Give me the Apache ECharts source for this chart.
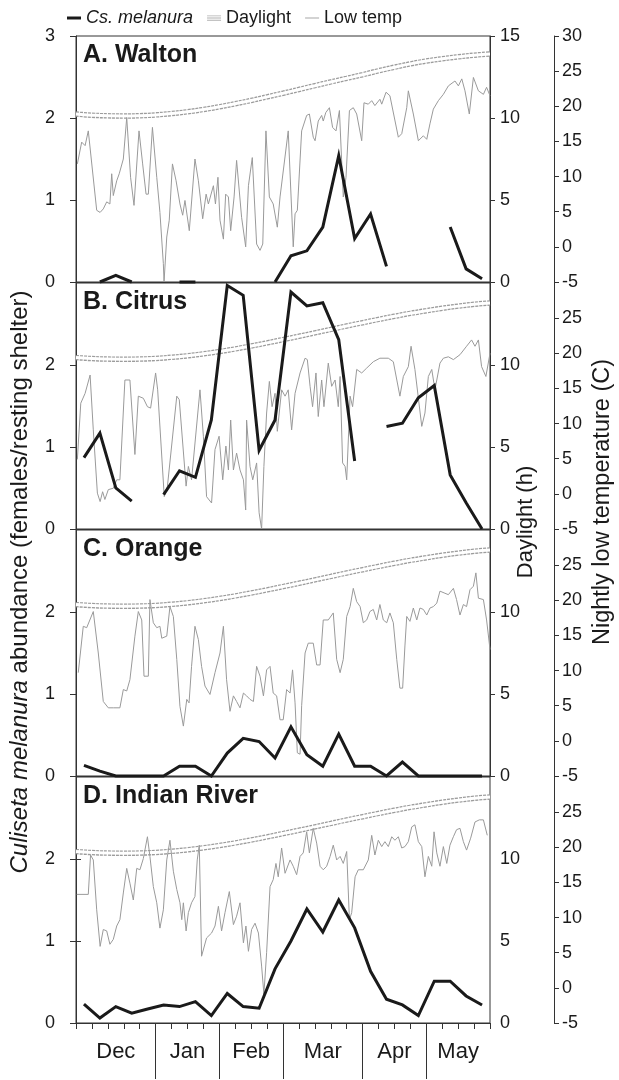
<!DOCTYPE html>
<html>
<head>
<meta charset="utf-8">
<title>Culiseta melanura abundance</title>
<script src="https://cdn.jsdelivr.net/npm/echarts@6/dist/echarts.min.js"></script>
<style>
  html, body { margin: 0; padding: 0; background: #fff; }
  #chart { width: 619px; height: 1080px; }
</style>
</head>
<body>
<div id="chart"></div>
<script>
// panels, top to bottom
const sites = ['A. Walton', 'B. Citrus', 'C. Orange', 'D. Indian River']

// x axis runs in days from the start of December, 26 weekly collections
const months = ['Dec', 'Jan', 'Feb', 'Mar', 'Apr', 'May']
const monthBreaks = [0, 35, 63, 91, 126, 154, 182]

// weekly Cs. melanura abundance (females/resting shelter), null = not collected
const abundA = [null, 0, 0.08, 0, null, null, 0, 0, null, null, null, null, 0, 0.32, 0.38, 0.67, 1.54, 0.53, 0.83, 0.19, null, null, null, 0.67, 0.16, 0.04]
const abundB = [0.87, 1.17, 0.5, 0.34, null, 0.42, 0.71, 0.63, 1.33, 2.97, 2.85, 0.96, 1.33, 2.89, 2.72, 2.76, 2.31, 0.83, null, 1.25, 1.29, 1.6, 1.75, 0.66, 0.32, 0]
const abundC = [0.13, 0.06, 0, 0, 0, 0, 0.12, 0.12, 0, 0.28, 0.46, 0.42, 0.22, 0.6, 0.26, 0.12, 0.51, 0.12, 0.12, 0, 0.17, 0, 0, 0, 0, 0]
const abundD = [0.23, 0.06, 0.2, 0.12, 0.17, 0.22, 0.2, 0.26, 0.09, 0.36, 0.2, 0.18, 0.66, 1.0, 1.39, 1.11, 1.5, 1.16, 0.63, 0.29, 0.22, 0.09, 0.51, 0.51, 0.33, 0.22]

// daylight (h), one value per week boundary (day 0, 7, ... 182)
const daylightNorth = [10.24, 10.17, 10.13, 10.12, 10.14, 10.19, 10.27, 10.38, 10.52, 10.68, 10.87, 11.07, 11.29, 11.51, 11.74, 11.97, 12.2, 12.42, 12.64, 12.88, 13.1, 13.3, 13.47, 13.61, 13.73, 13.83, 13.9]
const daylightSouth = [10.45, 10.39, 10.36, 10.35, 10.36, 10.4, 10.47, 10.56, 10.68, 10.82, 10.98, 11.16, 11.35, 11.55, 11.75, 11.96, 12.17, 12.38, 12.58, 12.78, 12.97, 13.15, 13.31, 13.46, 13.59, 13.7, 13.78]

// nightly low temperature (C), [day, temp]
const tempA = [[0.6, 11.8], [2.5, 14.9], [4, 14.4], [5.4, 16.5], [9.1, 5.2], [10.6, 4.9], [12, 5.4], [13.5, 6.4], [14.9, 6.1], [15.7, 10.4], [16.4, 7.3], [17.9, 9.4], [19, 10.4], [20.8, 12.5], [22.3, 18.4], [24, 9.9], [25.5, 5.9], [27.7, 16.5], [29.3, 11.8], [30.8, 7.5], [31.8, 7.5], [33.6, 17], [35.5, 9.9], [36.9, 4.9], [38.4, -2.4], [38.7, -5], [39.9, 1.4], [41, 3.8], [42.4, 11.8], [44, 9.4], [45.7, 6.1], [46.9, 4.5], [47.9, 6.6], [49.8, 2.3], [52.3, 12.5], [53.8, 9.4], [55.7, 4], [57.2, 7.5], [58.2, 6.1], [60.4, 8.7], [61.3, 6.1], [62.4, 9.9], [63.3, 3.8], [64.8, 1.1], [65.8, 7.5], [67, 7.1], [68, 2.3], [69.5, 7.1], [70.6, 12.3], [72.8, 4.2], [74.6, 0], [75.8, 8.7], [77.5, 12.7], [79.4, 0.4], [80.9, -0.5], [82.1, 0.4], [83.5, 16.5], [85, 7.1], [86.7, 6.1], [88.5, 2.8], [89.7, 7.1], [93.3, 16.5], [95.5, 0], [96.3, 4.7], [97.3, 5.2], [99.2, 16.5], [101.4, 18.7], [102.6, 18.9], [104.3, 15.6], [105.1, 15.1], [106.5, 17.9], [108, 18.7], [108.7, 17.9], [109.8, 19.1], [111.4, 19.8], [112.8, 17], [114.3, 16.5], [115.8, 19.4], [117.5, 7.1], [118.7, 9.9], [120.2, 19.4], [121.9, 19.8], [123.4, 18.9], [125.6, 15.1], [126.6, 20.5], [128.5, 20.3], [130, 20.8], [131.4, 20.1], [133.6, 21], [134.4, 20.3], [136.3, 22], [138, 21.5], [141.7, 15.6], [143.2, 16.1], [145.4, 19.8], [146.1, 22.2], [148.3, 18.9], [150.5, 15.1], [152.7, 15.8], [154.2, 15.3], [155.6, 17.5], [157.1, 19.6], [159.3, 20.8], [161.5, 21.7], [163.7, 22.9], [166.6, 23.6], [168.1, 22.9], [169.6, 23.9], [171, 22.2], [172.9, 18.9], [174.7, 24.1], [176.9, 22.2], [179.1, 21.7], [180.5, 22.7], [182, 21.5]]
const tempB = [[0.6, 4.9], [2.1, 12.9], [4, 14.3], [6.2, 16.9], [7.6, 9.1], [9.4, 0.1], [10.6, -1.1], [11.7, 0.3], [12.7, -0.8], [14.2, 0.6], [16.4, 0.8], [17.9, 2], [19.3, 2], [21.5, 16.2], [23.7, 16.2], [25.9, 5.6], [27.4, 13.9], [29.6, 13.6], [31.4, 12.4], [32.8, 12.2], [35, 17.2], [35.9, 14.8], [38.8, -0.4], [40.2, 1.1], [44.3, 13.9], [45.4, 13.4], [48.4, 1.1], [49.4, 3.9], [50.8, 2], [54.5, 14.8], [56, 8.2], [57.4, -0.4], [59.6, -1.3], [61.1, 6.3], [62.9, 8.2], [64.5, 2], [65.9, 6.8], [67, 3.4], [68, 10.5], [69.2, 3.4], [70.6, 5.8], [72.1, 3.4], [73.6, 2], [74.6, -2.3], [75, 10.5], [76.5, 3.9], [77.7, 2], [79.4, 4.4], [80.5, -2.7], [81.6, -5], [82.6, 3.9], [83.8, 11.5], [85, 16], [86.2, 12.4], [87.5, 14.3], [88.5, 8.9], [90.4, 14.8], [91.9, 13.9], [93.3, 14.8], [94.8, 9.1], [96.3, 14.3], [98.5, 17.2], [100.7, 19.3], [101.7, 19.1], [102.9, 15.3], [104, 12.4], [105.5, 17.2], [106.5, 11], [108, 16.2], [109, 12.4], [110.9, 18.6], [112.4, 15.3], [113.9, 16.2], [115.3, 12.4], [116.1, 16.7], [117.2, 4.4], [118.3, 3.9], [119, 2], [120.5, 13.9], [121.6, 12.4], [123.4, 17.7], [125.6, 17.2], [127.8, 17.9], [130.7, 18.8], [133.6, 19.3], [137.3, 19.3], [139.5, 18.8], [142.4, 13.9], [143.9, 16.7], [146.1, 18.1], [147.3, 21], [149, 17.7], [152, 9.6], [153.4, 11.5], [154.9, 16.7], [156.4, 17.7], [157.8, 14.8], [160, 18.6], [161.5, 19.3], [163.7, 19.5], [165.9, 19.1], [168.8, 19.8], [171.7, 21], [173.9, 21.9], [175.4, 21], [176.9, 21.9], [178.3, 18.1], [180.2, 16.7], [182, 20]]
const tempC = [[1, 9.7], [3.2, 16.3], [4.7, 16.1], [7.6, 18.4], [9.8, 12.5], [12, 5.6], [14.2, 4.7], [16.4, 4.7], [19.3, 4.7], [20.8, 7.3], [22.3, 7.1], [23.7, 8.7], [25.9, 14.9], [27.4, 18.4], [28.9, 17.2], [29.9, 9.2], [31.8, 9.2], [32.5, 20.1], [34, 16.8], [35.5, 16.1], [36.9, 16.3], [37.7, 14.6], [39.9, 14.9], [41.3, 19.1], [42.8, 17.7], [44.3, 11.6], [45.7, 4.9], [47.2, 2.1], [48.7, 5.9], [49.7, 5.4], [50.8, 10.6], [52.3, 16.3], [53.8, 14.4], [55.2, 10.6], [56.7, 7.8], [58.9, 6.6], [61.1, 9.7], [63.3, 12.5], [64.8, 16.3], [66.2, 8.7], [67.7, 4.2], [69.2, 6.4], [70.6, 5.6], [72.1, 4.7], [73.6, 6.8], [75, 6.4], [76.5, 5.9], [78, 5.6], [79.4, 10.6], [80.9, 9.2], [82.4, 6.4], [83.8, 10.1], [85.3, 10.6], [86.7, 6.8], [88.2, 6.4], [89.7, 3], [91.1, 3], [92.6, 7.3], [94.1, 6.8], [95.2, 10.1], [96.3, 5.4], [97.3, -1.7], [98.5, -1.9], [99.2, 5], [100.7, 12.5], [102.1, 13.9], [104.3, 13.9], [105.8, 10.8], [107.3, 10.8], [108.7, 17.2], [110.9, 17.2], [113.1, 18.2], [114.6, 11.6], [116.1, 9.7], [117.5, 11.6], [119, 17.7], [120.5, 19.1], [121.9, 21.7], [123.4, 19.8], [124.9, 19.1], [126.3, 16.8], [127.8, 17.2], [129.2, 18.4], [130.7, 18.7], [132.2, 17.2], [133.6, 19.4], [135.1, 17.2], [136.6, 16.8], [138, 18.2], [139.5, 16.8], [141, 11.6], [142.4, 7.5], [143.6, 7.5], [144.6, 13.5], [145.4, 17.7], [146.8, 17], [148.3, 18.9], [149.8, 17.2], [151.2, 18.9], [152.7, 18.7], [154.2, 17.9], [155.6, 18.9], [157.1, 19.1], [158.6, 19.6], [160, 21.3], [162.2, 21], [163.7, 20.8], [165.9, 21.7], [167.3, 20.1], [168.8, 17.9], [170.3, 19.4], [171.7, 19.1], [173.2, 21.5], [174.7, 22], [175.8, 23.9], [176.9, 20.3], [179.1, 20.1], [180.5, 17.2], [182, 13]]
const tempD = [[0.3, 13.3], [5.4, 13.3], [6.4, 18.9], [7.6, 18.2], [9.1, 11.1], [10.6, 5.9], [12, 8.3], [13.5, 8.1], [14.9, 6.2], [16.4, 6.9], [17.9, 8.8], [19.3, 9.7], [20.8, 13.5], [22.3, 17], [23.7, 14.9], [25.2, 12.5], [26.7, 17], [28.1, 16.8], [29.6, 18.4], [31.4, 21.5], [32.5, 18.7], [34, 14.4], [35.5, 12.1], [36.9, 8.5], [38.4, 11.1], [39.9, 18.2], [41.3, 21], [42.8, 16.6], [44.3, 14], [45.7, 12.1], [46.5, 9.7], [47.2, 12.1], [48.4, 8.1], [49.4, 10.7], [50.8, 12.1], [52.3, 13], [53.3, 18.2], [54.2, 20.3], [55.2, 4.5], [57.4, 7.1], [59.6, 7.8], [61.1, 8.8], [62.6, 11.6], [64, 8.1], [65.5, 10.7], [67.4, 13.7], [69.2, 9], [70.6, 10.2], [72.1, 12.1], [73.6, 6.4], [74.7, 8.8], [75.8, 5.2], [77.2, 8.3], [78.7, 9.2], [80.2, 7.8], [81.6, 3.1], [82.6, -0.9], [83.8, 5], [85.3, 14.4], [86.7, 15.4], [87.9, 17.7], [88.9, 15.8], [90.4, 19.9], [91.9, 16.3], [94.1, 18.2], [95.5, 17.3], [97, 16.1], [98.5, 18.7], [99.9, 19.2], [101.4, 22.2], [102.6, 19.2], [104.3, 22.7], [105.8, 20.6], [107.3, 17.3], [108.7, 16.8], [110.2, 17.3], [111.7, 18.7], [113.1, 20.3], [114.6, 18.2], [116.1, 18.7], [117.5, 17.7], [119, 19.4], [120.2, 9.7], [121.2, 10.7], [122.7, 15.8], [124.1, 16.8], [126.3, 16.8], [128.5, 18.2], [130, 21.7], [131.4, 18.9], [132.9, 21], [134.4, 20.1], [135.8, 20.8], [137.3, 20.1], [138.8, 21.5], [140.2, 21], [141.7, 21.5], [143.2, 19.9], [144.6, 20.1], [146.1, 20.8], [147.6, 22.9], [149, 23.2], [150.5, 20.8], [152, 20.1], [153.4, 15.8], [154.9, 18.7], [156.4, 17.3], [157.4, 22.2], [158.6, 19.2], [160, 17.3], [161.5, 20.1], [163, 17.7], [164.4, 20.3], [165.9, 21.5], [167.3, 22.5], [168.8, 22.7], [170.3, 20.8], [171.7, 19.6], [173.5, 21.3], [175.4, 23.6], [177.3, 23.9], [179.1, 23.9], [180.8, 21.7]]

const abund = [abundA, abundB, abundC, abundD]
const daylight = [daylightNorth, daylightSouth, daylightSouth, daylightSouth]
const temps = [tempA, tempB, tempC, tempD]

const font = 'Liberation Sans, Arial, Helvetica, sans-serif'
const ink = '#1a1a1a'
const axisColor = '#333'
const gridTops = [36, 283, 530, 777]
const gridH = 246

const chart = echarts.init(document.getElementById('chart'))

const grids = []
const xAxes = []
const yAxes = []
const series = []
const labels = []

gridTops.forEach((top, i) => {
  grids.push({ left: 76, right: 129, top: top, height: gridH, show: true, borderColor: axisColor, borderWidth: 1 })

  xAxes.push({
    gridIndex: i, type: 'value', min: 0, max: 182, interval: 7,
    axisLine: { show: true, lineStyle: { color: axisColor } },
    axisTick: { show: i === 3, length: 6, lineStyle: { color: axisColor } },
    axisLabel: { show: false },
    splitLine: { show: false }
  })

  const lab = { fontSize: 18, fontFamily: font, color: ink, showMaxLabel: i === 0 }
  yAxes.push({
    gridIndex: i, type: 'value', min: 0, max: 3, interval: 1, position: 'left',
    axisLine: { show: true, lineStyle: { color: axisColor } },
    axisTick: { show: true, length: 6, lineStyle: { color: axisColor } },
    axisLabel: Object.assign({ margin: 21 }, lab),
    splitLine: { show: false }
  })
  yAxes.push({
    gridIndex: i, type: 'value', min: 0, max: 15, interval: 5, position: 'right',
    axisLine: { show: true, lineStyle: { color: axisColor } },
    axisTick: { show: true, length: 5, lineStyle: { color: axisColor } },
    axisLabel: Object.assign({ margin: 10 }, lab),
    splitLine: { show: false }
  })
  yAxes.push({
    gridIndex: i, type: 'value', min: -5, max: 30, interval: 5, position: 'right', offset: 64,
    axisLine: { show: true, lineStyle: { color: axisColor } },
    axisTick: { show: true, length: 5, lineStyle: { color: axisColor } },
    axisLabel: Object.assign({ margin: 8 }, lab),
    splitLine: { show: false }
  })

  // daylight drawn as a double line: grey band with a white core
  const dl = daylight[i].map((v, k) => [k * 7, v])
  series.push({
    name: 'Daylight', type: 'line', xAxisIndex: i, yAxisIndex: 3 * i + 1, data: dl,
    smooth: true, symbol: 'none', silent: true, color: '#9c9c9c',
    lineStyle: { width: 5.5, color: '#9c9c9c', type: [3, 1] }
  })
  series.push({
    name: 'daylight core', type: 'line', xAxisIndex: i, yAxisIndex: 3 * i + 1, data: dl,
    smooth: true, symbol: 'none', silent: true,
    lineStyle: { width: 3, color: '#fff' }
  })
  series.push({
    name: 'Low temp', type: 'line', xAxisIndex: i, yAxisIndex: 3 * i + 2, data: temps[i],
    symbol: 'none', silent: true, color: '#9a9a9a',
    lineStyle: { width: 1, color: '#9a9a9a' }
  })
  series.push({
    name: 'Cs. melanura', type: 'line', xAxisIndex: i, yAxisIndex: 3 * i,
    data: abund[i].map((v, k) => [k * 7 + 3.5, v === null ? '-' : v]),
    symbol: 'none', silent: true, clip: false, connectNulls: false, color: ink,
    lineStyle: { width: 3, color: ink, join: 'miter' }
  })

  labels.push({
    type: 'text', left: 83, top: top + 7, z: 10,
    style: { text: sites[i], fontSize: 25, fontWeight: 'bold', fontFamily: font, fill: ink }
  })
})

// month axis under the last panel
const monthMid = months.map((m, k) => (monthBreaks[k] + monthBreaks[k + 1]) / 2)
xAxes.push({
  gridIndex: 3, type: 'value', min: 0, max: 182, position: 'bottom',
  axisLine: { show: false },
  axisTick: { show: true, customValues: monthBreaks.slice(1, -1), length: 56, lineStyle: { color: axisColor } },
  axisLabel: {
    show: true, customValues: monthMid, margin: 18, fontSize: 22, fontFamily: font, color: ink,
    formatter: v => months[monthMid.indexOf(v)]
  },
  splitLine: { show: false }
})

const option = {
  animation: false,
  grid: grids,
  xAxis: xAxes,
  yAxis: yAxes,
  series: series,
  legend: {
    top: 4, left: 62, itemWidth: 14, itemHeight: 10, itemGap: 14, selectedMode: false,
    textStyle: {
      fontSize: 18, fontFamily: font, color: ink,
      rich: { i: { fontStyle: 'italic', fontSize: 18, fontFamily: font, color: ink } }
    },
    formatter: n => n === 'Cs. melanura' ? '{i|Cs. melanura}' : n,
    data: [
      { name: 'Cs. melanura', icon: 'path://M0,0H14V3H0Z', itemStyle: { color: ink, borderWidth: 0 } },
      { name: 'Daylight', icon: 'path://M0,0H16V1H0ZM0,2.5H16V3.5H0ZM0,5H16V6H0Z', itemStyle: { color: '#b0b0b0', borderWidth: 0 } },
      { name: 'Low temp', icon: 'path://M0,0H16V1H0Z', itemStyle: { color: '#9a9a9a', borderWidth: 0 } }
    ]
  },
  graphic: labels.concat([
    {
      type: 'text', x: 20, y: 582, rotation: Math.PI / 2,
      style: {
        text: '{i|Culiseta melanura} abundance (females/resting shelter)',
        fontSize: 24, fontFamily: font, fill: ink, align: 'center', verticalAlign: 'middle',
        rich: { i: { fontStyle: 'italic', fontSize: 24, fontFamily: font, fill: ink } }
      }
    },
    {
      type: 'text', x: 526, y: 522, rotation: Math.PI / 2,
      style: { text: 'Daylight (h)', fontSize: 22, fontFamily: font, fill: ink, align: 'center', verticalAlign: 'middle' }
    },
    {
      type: 'text', x: 603, y: 502, rotation: Math.PI / 2,
      style: { text: 'Nightly low temperature (C)', fontSize: 23.5, fontFamily: font, fill: ink, align: 'center', verticalAlign: 'middle' }
    }
  ])
}

chart.setOption(option)
</script>
</body>
</html>
